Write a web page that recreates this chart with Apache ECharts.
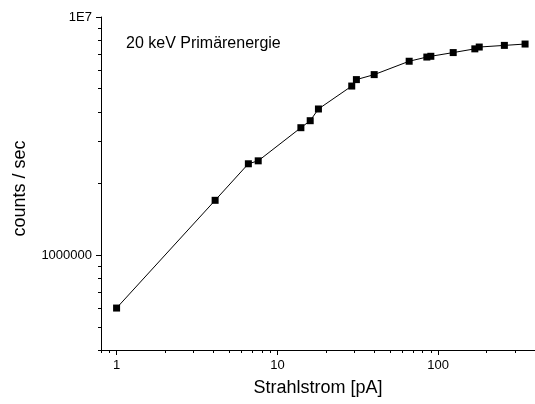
<!DOCTYPE html>
<html>
<head>
<meta charset="utf-8">
<script src="https://cdn.jsdelivr.net/npm/echarts@6/dist/echarts.min.js"></script>
<style>
  html, body { margin: 0; padding: 0; background: #fff; }
  #chart { width: 535px; height: 404px; }
</style>
</head>
<body>
<div id="chart"></div>
<script>
// Beam current (pA) and measured count rate (counts/s)
const beamCurrent = [1, 4.1, 6.6, 7.6, 14, 16, 18, 29, 31, 40, 66, 85, 90, 124, 169, 180, 258, 347];
const countRate = [600000, 1700000, 2420000, 2490000, 3430000, 3670000, 4110000, 5130000, 5460000,
                   5730000, 6520000, 6790000, 6840000, 7090000, 7350000, 7480000, 7600000, 7700000];

// Axis ticks and labels
const xMajorTicks = [1, 10, 100];
const xMinorTicks = [0.8, 0.9, 2, 3, 4, 5, 6, 7, 8, 9, 20, 30, 40, 50, 60, 70, 80, 90, 200, 300, 400];
const yMajorTicks = [1000000, 10000000];
const yMinorTicks = [400000, 500000, 600000, 700000, 800000, 900000,
                     2000000, 3000000, 4000000, 5000000, 6000000, 7000000, 8000000, 9000000];
const yTickText = { 1000000: '1000000', 10000000: '1E7' };

const FONT = '"Liberation Sans", Arial, sans-serif';
const X_MIN = 0.8, X_MAX = 400, Y_MIN = 400000, Y_MAX = 10000000;

const chart = echarts.init(document.getElementById('chart'), null, { renderer: 'canvas' });

const points = beamCurrent.map((x, i) => [x, countRate[i]]);

const xBase = {
  type: 'log', logBase: 10, min: X_MIN, max: X_MAX, position: 'bottom',
  splitLine: { show: false }, minorTick: { show: false }
};
const yBase = {
  type: 'log', logBase: 10, min: Y_MIN, max: Y_MAX, position: 'left',
  splitLine: { show: false }, minorTick: { show: false }
};

chart.setOption({
  animation: false,
  backgroundColor: '#ffffff',
  textStyle: { fontFamily: FONT },
  grid: { left: 101, right: 0, top: 17, bottom: 54, containLabel: false },
  xAxis: [
    Object.assign({}, xBase, {
      name: 'Strahlstrom [pA]',
      nameLocation: 'middle',
      nameGap: 29,
      nameTextStyle: { fontFamily: FONT, fontSize: 18, color: '#000' },
      axisLine: { show: true, lineStyle: { color: '#000', width: 1 } },
      axisTick: { show: true, length: 5, customValues: xMajorTicks, lineStyle: { color: '#000', width: 1 } },
      axisLabel: { show: true, customValues: xMajorTicks, margin: 9, fontFamily: FONT, fontSize: 13, color: '#000',
                   formatter: v => String(Math.round(v)) }
    }),
    Object.assign({}, xBase, {
      axisLine: { show: false },
      axisTick: { show: true, length: 3, customValues: xMinorTicks, lineStyle: { color: '#000', width: 1 } },
      axisLabel: { show: false }
    })
  ],
  yAxis: [
    Object.assign({}, yBase, {
      name: 'counts / sec',
      nameLocation: 'middle',
      nameGap: 72,
      nameRotate: 90,
      nameTextStyle: { fontFamily: FONT, fontSize: 18, color: '#000', padding: [0, 10, 0, 0] },
      axisLine: { show: true, lineStyle: { color: '#000', width: 1 } },
      axisTick: { show: true, length: 5, customValues: yMajorTicks, lineStyle: { color: '#000', width: 1 } },
      axisLabel: { show: true, customValues: yMajorTicks, margin: 9, fontFamily: FONT, fontSize: 13, color: '#000',
                   formatter: v => yTickText[Math.round(v)] || String(v) }
    }),
    Object.assign({}, yBase, {
      axisLine: { show: false },
      axisTick: { show: true, length: 3, customValues: yMinorTicks, lineStyle: { color: '#000', width: 1 } },
      axisLabel: { show: false }
    })
  ],
  graphic: [{
    type: 'text',
    left: 126,
    top: 36,
    style: { text: '20 keV Primärenergie', font: '16px ' + FONT, fill: '#000' }
  }],
  series: [{
    type: 'line',
    xAxisIndex: 0,
    yAxisIndex: 0,
    data: points,
    symbol: 'rect',
    symbolSize: 7,
    itemStyle: { color: '#000' },
    lineStyle: { color: '#000', width: 1 },
    clip: false
  }]
});
</script>
</body>
</html>
